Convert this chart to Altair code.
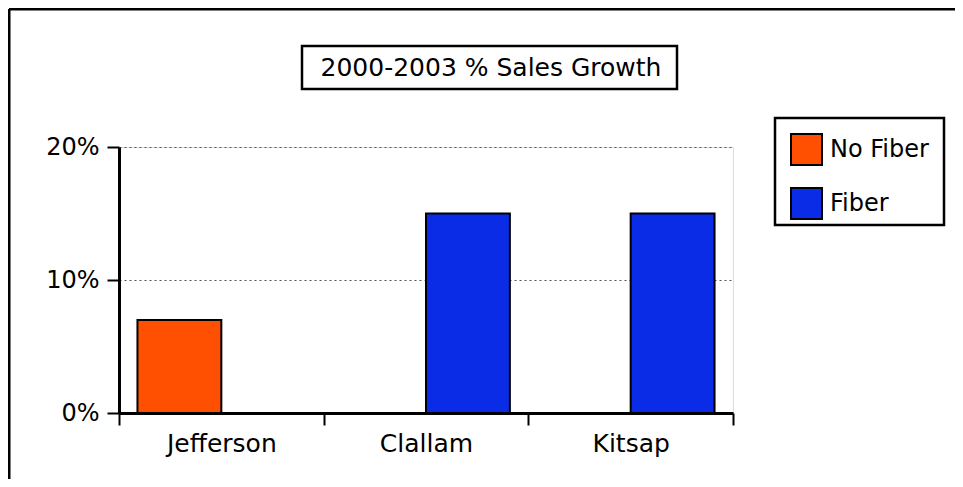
import altair as alt
import pandas as pd

counties = ["Jefferson", "Clallam", "Kitsap"]
series = ["No Fiber", "Fiber"]
no_fiber = [0.07, 0.0, 0.0]
fiber = [0.0, 0.15, 0.15]
colors = ["#FF4F00", "#0A2CE6"]
y_ticks = [0.0, 0.1, 0.2]
title_text = ["2000-2003 % Sales Growth"]

rows = []
for c, a, b in zip(counties, no_fiber, fiber):
    rows.append({"county": c, "series": series[0], "growth": a})
    rows.append({"county": c, "series": series[1], "growth": b})
df = pd.DataFrame(rows)

W, H = 614, 266
FONT = "DejaVu Sans"
one = pd.DataFrame({"t": title_text})

bars = alt.Chart(df).mark_bar(stroke="black", strokeWidth=2).encode(
    x=alt.X("county:N", sort=counties,
            scale=alt.Scale(paddingInner=0, paddingOuter=0),
            axis=alt.Axis(title=None, labelAngle=0, tickBand="extent",
                          tickSize=12, tickWidth=2, tickColor="black",
                          domainWidth=3, domainColor="black",
                          labelFont=FONT, labelFontSize=25, labelColor="black",
                          labelPadding=6, grid=False)),
    xOffset=alt.XOffset("series:N", sort=series,
                        scale=alt.Scale(domain=series, paddingInner=0, paddingOuter=0.22)),
    y=alt.Y("growth:Q", scale=alt.Scale(domain=[0, 0.2]),
            axis=alt.Axis(title=None, values=y_ticks, format=".0%",
                          tickSize=12, tickWidth=2, tickColor="black",
                          domainWidth=3, domainColor="black",
                          labelFont=FONT, labelFontSize=24, labelColor="black",
                          labelPadding=8, grid=True, gridDash=[2, 3],
                          gridColor="#555555", gridWidth=1)),
    color=alt.Color("series:N", sort=series,
                    scale=alt.Scale(domain=series, range=colors),
                    legend=alt.Legend(title=None, orient="none", legendX=656, legendY=-29,
                                      padding=15, symbolType="square", symbolSize=961,
                                      symbolStrokeColor="black", symbolStrokeWidth=2,
                                      symbolOpacity=1,
                                      labelFont=FONT, labelFontSize=24, labelColor="black",
                                      rowPadding=15, labelOffset=7)),
)

legend_box = alt.Chart(one).mark_rect(fill="white", stroke="black", strokeWidth=2.5).encode(
    x=alt.value(656), x2=alt.value(825), y=alt.value(-29), y2=alt.value(78))

title_box = alt.Chart(one).mark_rect(fill="white", stroke="black", strokeWidth=2.5).encode(
    x=alt.value(183), x2=alt.value(558), y=alt.value(-101), y2=alt.value(-58))
title_txt = alt.Chart(one).mark_text(font=FONT, fontSize=25, color="black",
                                     align="center", baseline="middle").encode(
    x=alt.value(372), y=alt.value(-79), text="t:N")

frame_top = alt.Chart(one).mark_rule(color="black", strokeWidth=3).encode(
    x=alt.value(-110), x2=alt.value(W + 222), y=alt.value(-138))
frame_left = alt.Chart(one).mark_rule(color="black", strokeWidth=3).encode(
    x=alt.value(-110), y=alt.value(-138), y2=alt.value(H + 70))

chart = alt.layer(frame_top, frame_left, legend_box, title_box, title_txt, bars).properties(
    width=W, height=H,
    autosize=alt.AutoSizeParams(type="none"),
    padding={"left": 111, "top": 139, "right": 222, "bottom": 66},
).configure_view(stroke=None).configure(background="white")

chart.save("out.html", embed_options={"renderer": "svg", "actions": False})
